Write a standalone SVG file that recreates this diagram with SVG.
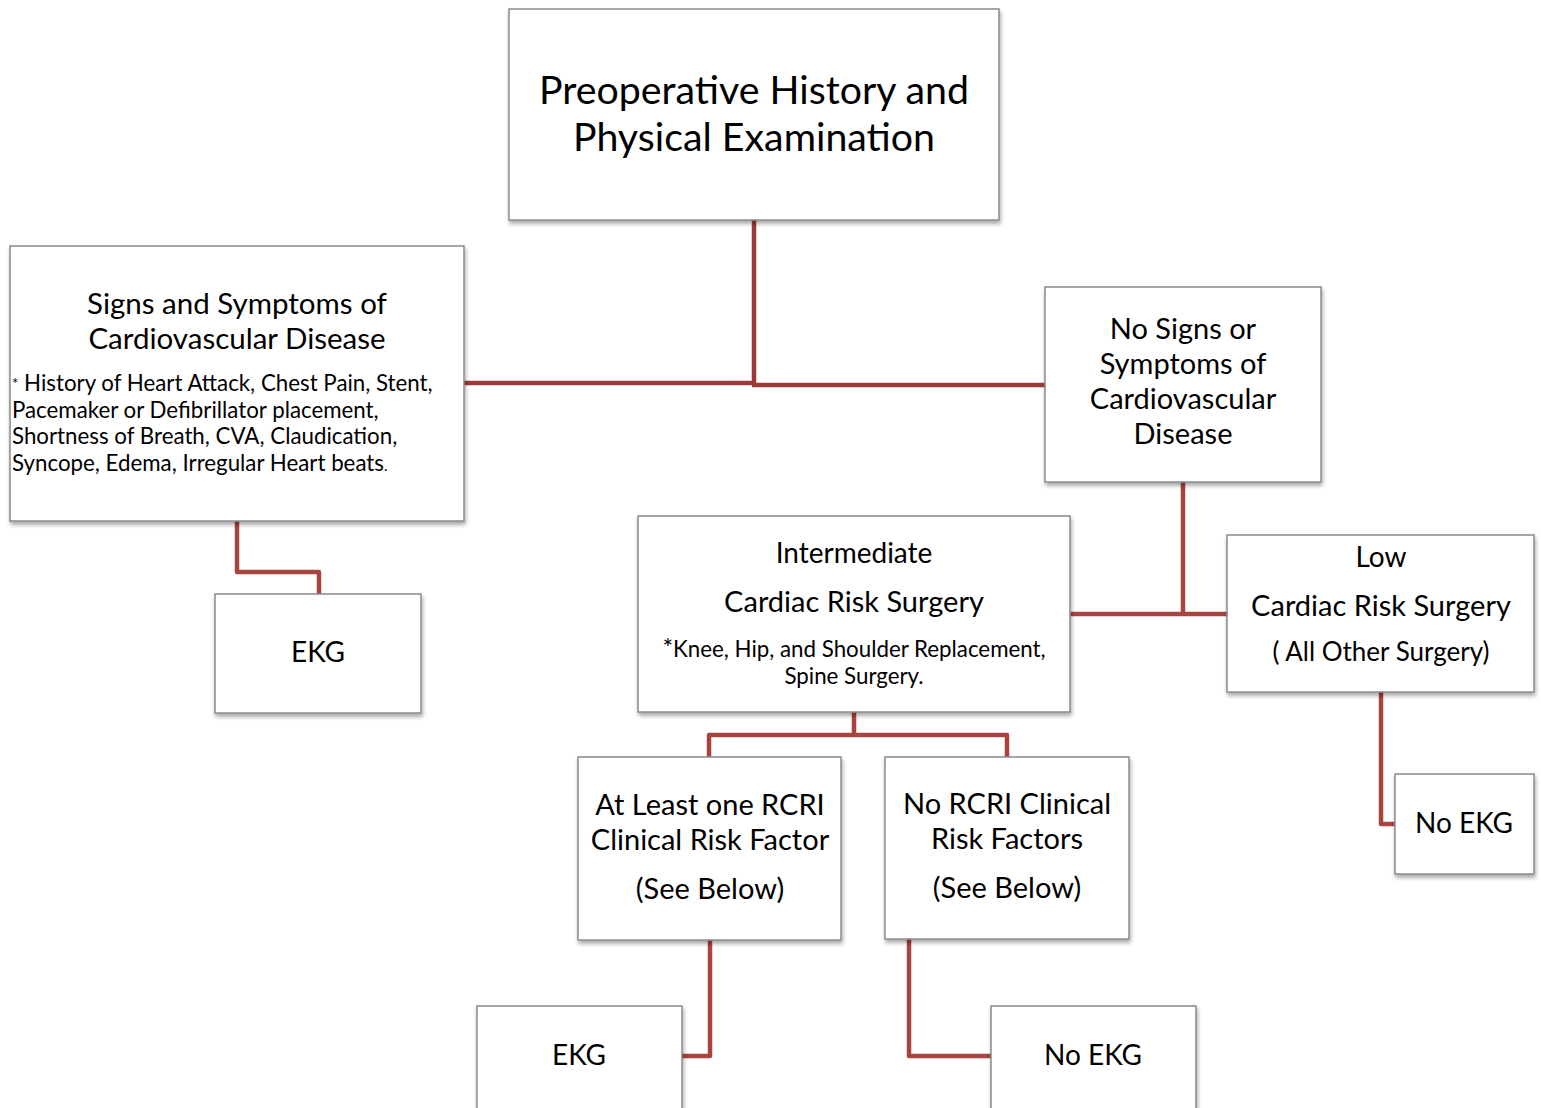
<svg xmlns="http://www.w3.org/2000/svg" width="1541" height="1108" viewBox="0 0 1541 1108">
<style>
.box{fill:#fff;stroke:#8a8a8a;stroke-width:1.5;filter:url(#sh)}
.t{font-family:Lato,"Open Sans",sans-serif;fill:#000;text-anchor:middle}
.l{font-family:Lato,"Open Sans",sans-serif;fill:#000}
.c{fill:none;stroke:#a8433f;stroke-width:4.5;stroke-linejoin:round}
.c2{fill:none;stroke:#9c3a3a;stroke-width:4.5}
</style>
<defs>
<filter id="sh" x="-10%" y="-10%" width="120%" height="130%">
<feDropShadow dx="1" dy="3" stdDeviation="2" flood-color="#000" flood-opacity="0.35"/>
</filter>
</defs>
<g id="connectors">
<path class="c2" d="M754,220 V384"/>
<path class="c2" d="M464,383 H754"/>
<path class="c2" d="M752,385 H1045"/>
<path class="c" d="M237,521 V572 H319 V594"/>
<path class="c" d="M1183,482 V614"/>
<path class="c" d="M1070,614 H1227"/>
<path class="c" d="M854,712 V735 M709,757 V735 H1007 V757"/>
<path class="c" d="M710,940 V1056 H682"/>
<path class="c" d="M909,939 V1056 H991"/>
<path class="c" d="M1381,692 V824 H1395"/>
</g>
<g id="n-preop">
<rect class="box" x="509" y="9" width="490" height="211"/>
<text class="t" x="754" y="104" font-size="39.3">Preoperative History and</text>
<text class="t" x="754" y="151" font-size="39.3">Physical Examination</text>
</g>
<g id="n-signs">
<rect class="box" x="10" y="246" width="454" height="275"/>
<text class="t" x="237" y="314" font-size="29.5">Signs and Symptoms of</text>
<text class="t" x="237" y="349" font-size="29.5">Cardiovascular Disease</text>
<text class="l" x="12" y="391" font-size="22.3"><tspan font-size="15" dy="-2">*</tspan><tspan dy="2"> History of Heart Attack, Chest Pain, Stent,</tspan></text>
<text class="l" x="12" y="418" font-size="22.3">Pacemaker or Defibrillator placement,</text>
<text class="l" x="12" y="444" font-size="22.3">Shortness of Breath, CVA, Claudication,</text>
<text class="l" x="12" y="471" font-size="22.3">Syncope, Edema, Irregular Heart beats<tspan font-size="15">.</tspan></text>
</g>
<g id="n-nosigns">
<rect class="box" x="1045" y="287" width="276" height="195"/>
<text class="t" x="1183" y="339" font-size="29">No Signs or</text>
<text class="t" x="1183" y="374" font-size="29">Symptoms of</text>
<text class="t" x="1183" y="409" font-size="29">Cardiovascular</text>
<text class="t" x="1183" y="444" font-size="29">Disease</text>
</g>
<g id="n-ekg1">
<rect class="box" x="215" y="594" width="206" height="119"/>
<text class="t" x="318" y="662" font-size="28">EKG</text>
</g>
<g id="n-intermediate">
<rect class="box" x="638" y="516" width="432" height="196"/>
<text class="t" x="854" y="563" font-size="28">Intermediate</text>
<text class="t" x="854" y="612" font-size="29">Cardiac Risk Surgery</text>
<text class="t" x="854" y="657" font-size="22.3"><tspan font-size="25">*</tspan>Knee, Hip, and Shoulder Replacement,</text>
<text class="t" x="854" y="684" font-size="22.3">Spine Surgery.</text>
</g>
<g id="n-low">
<rect class="box" x="1227" y="535" width="307" height="157"/>
<text class="t" x="1381" y="567" font-size="28">Low</text>
<text class="t" x="1381" y="616" font-size="29">Cardiac Risk Surgery</text>
<text class="t" x="1381" y="661" font-size="26">( All Other Surgery)</text>
</g>
<g id="n-atleast">
<rect class="box" x="578" y="757" width="263" height="183"/>
<text class="t" x="710" y="815" font-size="29">At Least one RCRI</text>
<text class="t" x="710" y="850" font-size="29">Clinical Risk Factor</text>
<text class="t" x="710" y="899" font-size="29">(See Below)</text>
</g>
<g id="n-norcri">
<rect class="box" x="885" y="757" width="244" height="182"/>
<text class="t" x="1007" y="814" font-size="29">No RCRI Clinical</text>
<text class="t" x="1007" y="849" font-size="29">Risk Factors</text>
<text class="t" x="1007" y="898" font-size="29">(See Below)</text>
</g>
<g id="n-noekg-right">
<rect class="box" x="1395" y="774" width="139" height="100"/>
<text class="t" x="1464" y="833" font-size="28">No EKG</text>
</g>
<g id="n-ekg2">
<rect class="box" x="477" y="1006" width="205" height="110"/>
<text class="t" x="579" y="1065" font-size="28">EKG</text>
</g>
<g id="n-noekg-bottom">
<rect class="box" x="991" y="1006" width="205" height="110"/>
<text class="t" x="1093" y="1065" font-size="28">No EKG</text>
</g>
</svg>
